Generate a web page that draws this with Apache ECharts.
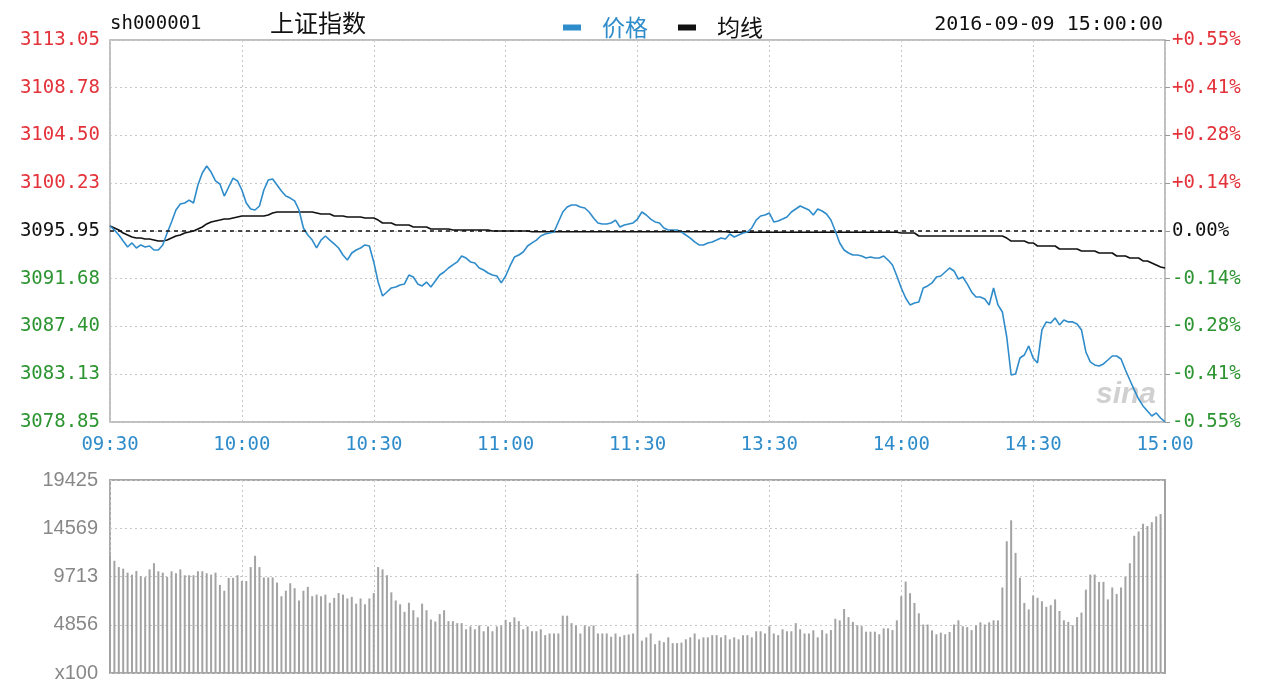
<!DOCTYPE html>
<html><head><meta charset="utf-8">
<script src="https://cdn.jsdelivr.net/npm/echarts@6/dist/echarts.min.js"></script>
<style>html,body{margin:0;padding:0;background:#fff}#c{width:1280px;height:683px}</style>
</head><body><div id="c"></div>
<script>
const timeLabels = ['09:30','10:00','10:30','11:00','11:30','13:30','14:00','14:30','15:00'];
const priceTicks = ['3078.85','3083.13','3087.40','3091.68','3095.95','3100.23','3104.50','3108.78','3113.05'];
const pctTicks = ['-0.55%','-0.41%','-0.28%','-0.14%','0.00%','+0.14%','+0.28%','+0.41%','+0.55%'];
const volTicks = ['x100','4856','9713','14569','19425'];
const PREV_CLOSE = 3095.95;
const PRICE_MIN = 3078.85, PRICE_MAX = 3113.05;
const VOL_MAX = 19425;

const price = [
3096.40,3096.04,3095.59,3095.05,3094.52,3094.88,3094.43,3094.70,3094.52,3094.61,
3094.25,3094.25,3094.70,3095.77,3096.76,3097.83,3098.37,3098.46,3098.72,3098.46,
3100.07,3101.14,3101.77,3101.23,3100.43,3100.16,3099.08,3099.89,3100.69,3100.43,
3099.62,3098.46,3097.92,3097.83,3098.19,3099.62,3100.51,3100.60,3100.07,3099.53,
3099.08,3098.90,3098.64,3097.83,3096.22,3095.59,3095.14,3094.43,3095.14,3095.50,
3095.14,3094.79,3094.43,3093.80,3093.35,3093.98,3094.25,3094.43,3094.70,3094.61,
3093.18,3091.38,3090.13,3090.49,3090.85,3090.94,3091.12,3091.21,3092.01,3091.83,
3091.21,3091.03,3091.38,3090.94,3091.47,3092.01,3092.28,3092.64,3092.91,3093.18,
3093.71,3093.53,3093.18,3093.09,3092.64,3092.46,3092.19,3092.01,3091.92,3091.30,
3091.92,3092.82,3093.62,3093.80,3094.07,3094.61,3094.88,3095.14,3095.50,3095.68,
3095.77,3095.86,3096.76,3097.65,3098.10,3098.28,3098.28,3098.10,3098.01,3097.65,
3097.11,3096.67,3096.58,3096.58,3096.67,3096.93,3096.31,3096.49,3096.58,3096.67,
3097.02,3097.65,3097.38,3097.02,3096.76,3096.67,3096.22,3096.04,3096.04,3096.04,
3095.86,3095.59,3095.32,3094.97,3094.70,3094.70,3094.88,3094.97,3095.14,3095.32,
3095.23,3095.68,3095.41,3095.59,3095.77,3095.86,3096.22,3096.93,3097.29,3097.38,
3097.56,3096.76,3096.85,3097.02,3097.20,3097.65,3097.92,3098.19,3098.01,3097.83,
3097.38,3097.92,3097.74,3097.47,3096.93,3095.95,3094.88,3094.25,3093.98,3093.80,
3093.80,3093.71,3093.53,3093.62,3093.53,3093.53,3093.71,3093.35,3092.91,3091.92,
3090.85,3089.95,3089.33,3089.51,3089.60,3090.85,3091.03,3091.30,3091.83,3091.92,
3092.28,3092.64,3092.37,3091.65,3091.83,3091.21,3090.49,3090.04,3090.04,3089.86,
3089.33,3090.85,3089.33,3088.70,3086.46,3083.06,3083.15,3084.58,3084.85,3085.66,
3084.58,3084.14,3087.09,3087.81,3087.72,3088.16,3087.54,3087.98,3087.81,3087.81,
3087.63,3087.09,3085.12,3084.23,3083.96,3083.87,3084.05,3084.40,3084.76,3084.76,
3084.49,3083.51,3082.61,3081.72,3080.91,3080.29,3079.84,3079.39,3079.66,3079.21,
3078.86
];

const avgPrice = [
3096.40,3096.22,3096.04,3095.77,3095.59,3095.41,3095.32,3095.32,3095.23,3095.23,
3095.14,3095.05,3095.05,3095.14,3095.32,3095.50,3095.59,3095.77,3095.86,3095.95,
3096.13,3096.31,3096.58,3096.76,3096.85,3096.93,3097.02,3097.02,3097.11,3097.20,
3097.29,3097.29,3097.29,3097.29,3097.29,3097.29,3097.38,3097.56,3097.65,3097.65,
3097.65,3097.65,3097.65,3097.65,3097.65,3097.65,3097.65,3097.56,3097.47,3097.47,
3097.47,3097.29,3097.29,3097.29,3097.20,3097.20,3097.20,3097.20,3097.11,3097.11,
3097.11,3096.93,3096.67,3096.67,3096.67,3096.49,3096.49,3096.49,3096.49,3096.31,
3096.31,3096.31,3096.31,3096.13,3096.13,3096.13,3096.13,3096.13,3096.04,3096.04,
3096.04,3096.04,3096.04,3096.04,3096.04,3096.04,3096.04,3095.95,3095.95,3095.95,
3095.95,3095.95,3095.95,3095.95,3095.95,3095.95,3095.88,3095.88,3095.88,3095.88,
3095.88,3095.88,3095.88,3095.88,3095.88,3095.88,3095.88,3095.88,3095.88,3095.88,
3095.88,3095.88,3095.88,3095.88,3095.88,3095.88,3095.88,3095.88,3095.88,3095.88,
3095.88,3095.88,3095.88,3095.88,3095.88,3095.88,3095.88,3095.88,3095.88,3095.88,
3095.88,3095.88,3095.88,3095.88,3095.88,3095.88,3095.88,3095.88,3095.88,3095.88,
3095.88,3095.84,3095.84,3095.84,3095.84,3095.84,3095.84,3095.84,3095.84,3095.84,
3095.84,3095.84,3095.84,3095.84,3095.84,3095.84,3095.84,3095.84,3095.84,3095.84,
3095.84,3095.84,3095.84,3095.84,3095.84,3095.84,3095.84,3095.84,3095.84,3095.84,
3095.84,3095.84,3095.84,3095.84,3095.84,3095.84,3095.84,3095.84,3095.84,3095.84,
3095.77,3095.77,3095.77,3095.77,3095.50,3095.50,3095.50,3095.50,3095.50,3095.50,
3095.50,3095.50,3095.50,3095.50,3095.50,3095.50,3095.50,3095.50,3095.50,3095.50,
3095.50,3095.50,3095.50,3095.50,3095.32,3095.05,3095.05,3095.05,3095.05,3094.88,
3094.88,3094.61,3094.61,3094.61,3094.61,3094.61,3094.34,3094.34,3094.34,3094.34,
3094.34,3094.16,3094.16,3094.16,3094.16,3093.98,3093.98,3093.98,3093.98,3093.71,
3093.71,3093.71,3093.53,3093.53,3093.53,3093.27,3093.27,3093.09,3092.91,3092.73,
3092.64
];

const volume = [
11800,11300,10660,10500,10100,9900,10270,9750,9650,10430,
11050,10240,10100,9680,10240,10040,10430,9840,9840,9840,
10240,10240,10040,9900,10100,8870,8280,9580,9580,9840,
9260,9260,10660,11800,10660,9620,9620,9620,9100,7730,
8280,9030,8540,7300,8280,8670,7730,7890,7730,7890,
7070,7560,8050,7890,7500,7660,6980,7500,6910,7500,
8050,10660,10430,9840,8120,7300,6910,6160,7070,6320,
5600,6980,6320,5380,5180,5930,6320,5220,5220,5020,
5020,4400,4690,4400,4790,4200,4690,4200,4690,4790,
5350,5120,5600,5220,4400,4690,4200,4200,4400,3810,
3980,3980,3980,5770,5770,5020,4790,3980,4790,4690,
4790,3980,3980,3980,3650,3980,3650,3810,3880,3980,
10000,3260,3590,3980,2900,3260,3100,3590,3000,3000,
3060,3390,3590,3980,3390,3590,3590,3810,3810,3590,
3810,3390,3590,3390,3810,3810,3590,4200,4200,3980,
4690,3980,3810,4400,4200,4200,5020,4400,3980,3980,
4300,3590,4320,3970,4320,5460,5300,6440,5620,5140,
4810,4710,4160,4160,4160,3900,4490,4490,4320,5300,
7740,9200,8030,7050,6010,4880,4880,4290,3900,4060,
3900,4130,4880,5300,4710,4620,4320,4810,5100,4880,
5100,5300,5300,8610,13260,15370,12090,9590,7050,6400,
7800,7570,7220,6660,6830,7410,6240,5300,5140,4810,
5620,6080,8390,9910,9910,9170,9170,7410,8610,7960,
8610,9690,11050,13810,14240,15020,14790,15180,15760,16000,
19425
];

const MONO = '"DejaVu Sans Mono", "Liberation Mono", monospace';
const CJK = '"Noto Sans CJK SC", sans-serif';
const RED = '#e3323a', GREEN = '#2c9430', BLUE = '#2f8ccb';
const priceStep = (PRICE_MAX - PRICE_MIN) / 8;
const idxOf = v => Math.round((v - PRICE_MIN) / priceStep);
const tickColor = (v) => { const i = idxOf(v); return i > 4 ? RED : (i < 4 ? GREEN : '#111'); };
const dotted = { show: true, lineStyle: { color: '#c8c8c8', type: [2, 3], width: 1 } };

const chart = echarts.init(document.getElementById('c'), null, { renderer: 'canvas' });
chart.setOption({
  animation: false,
  backgroundColor: '#fff',
  grid: [
    { left: 110, top: 40, width: 1055, height: 382, show: true, borderColor: '#aaa', borderWidth: 1.5, backgroundColor: 'transparent' },
    { left: 110, top: 480, width: 1055, height: 197, show: true, borderColor: '#a8a8a8', borderWidth: 2, backgroundColor: 'transparent' }
  ],
  legend: {
    left: 558, top: 11, itemWidth: 18, itemHeight: 6, itemGap: 30, icon: 'rect',
    textStyle: { fontFamily: CJK, fontSize: 23, padding: [0, 0, 0, 16] },
    data: [
      { name: '价格', textStyle: { color: BLUE } },
      { name: '均线', textStyle: { color: '#111' } }
    ]
  },
  xAxis: [
    { type: 'value', gridIndex: 0, min: 0, max: 240, interval: 30,
      axisLine: { show: false }, axisTick: { show: false }, splitLine: dotted,
      axisLabel: { color: BLUE, fontFamily: MONO, fontSize: 19, margin: 14, formatter: v => timeLabels[Math.round(v / 30)] } },
    { type: 'value', gridIndex: 1, min: 0, max: 240, interval: 30,
      axisLine: { show: false }, axisTick: { show: false }, splitLine: dotted, axisLabel: { show: false } }
  ],
  yAxis: [
    { type: 'value', gridIndex: 0, min: PRICE_MIN, max: PRICE_MAX, interval: priceStep,
      axisLine: { show: false }, axisTick: { show: false }, splitLine: dotted,
      axisLabel: { fontFamily: MONO, fontSize: 19, margin: 10, color: tickColor, formatter: v => priceTicks[idxOf(v)] } },
    { type: 'value', gridIndex: 0, position: 'right', min: PRICE_MIN, max: PRICE_MAX, interval: priceStep,
      axisLine: { show: false }, axisTick: { show: true, length: 5, lineStyle: { color: '#999' } }, splitLine: { show: false },
      axisLabel: { fontFamily: MONO, fontSize: 19, margin: 7, color: tickColor, formatter: v => pctTicks[idxOf(v)] } },
    { type: 'value', gridIndex: 1, min: 0, max: VOL_MAX, interval: VOL_MAX / 4,
      axisLine: { show: false }, axisTick: { show: false }, splitLine: dotted,
      axisLabel: { fontFamily: '"Liberation Sans", Arial, sans-serif', fontSize: 20, margin: 12, color: '#888',
        formatter: v => volTicks[Math.round(v / (VOL_MAX / 4))] } }
  ],
  series: [
    { name: '价格', type: 'line', xAxisIndex: 0, yAxisIndex: 0, showSymbol: false, symbol: 'none',
      data: price.map((v, i) => [i, v]), lineStyle: { color: BLUE, width: 1.6 }, itemStyle: { color: BLUE }, z: 4,
      markLine: { silent: true, symbol: 'none', label: { show: false },
        lineStyle: { color: '#111', type: [4, 4], width: 1.5 }, data: [{ yAxis: PREV_CLOSE }] } },
    { name: '均线', type: 'line', xAxisIndex: 0, yAxisIndex: 0, showSymbol: false, symbol: 'none',
      data: avgPrice.map((v, i) => [i, v]), lineStyle: { color: '#111', width: 1.6 }, itemStyle: { color: '#111' }, z: 3 },
    { name: '成交量', type: 'bar', xAxisIndex: 1, yAxisIndex: 2, barWidth: 2,
      data: volume.map((v, i) => [i, v]), itemStyle: { color: '#a3a3a3' } }
  ],
  graphic: [
    { type: 'text', left: 110, top: 15, style: { text: 'sh000001', font: '19px ' + MONO, fill: '#111' } },
    { type: 'text', left: 270, top: 11, style: { text: '上证指数', font: '24px ' + CJK, fill: '#111' } },
    { type: 'text', right: 117, top: 15, style: { text: '2016-09-09 15:00:00', font: '20px ' + MONO, fill: '#111' } },
    { type: 'text', left: 1096, top: 380, style: { text: 'sina', font: 'italic bold 30px "Liberation Sans", sans-serif', fill: 'rgba(150,150,150,0.45)' } }
  ]
});
</script>
</body></html>
